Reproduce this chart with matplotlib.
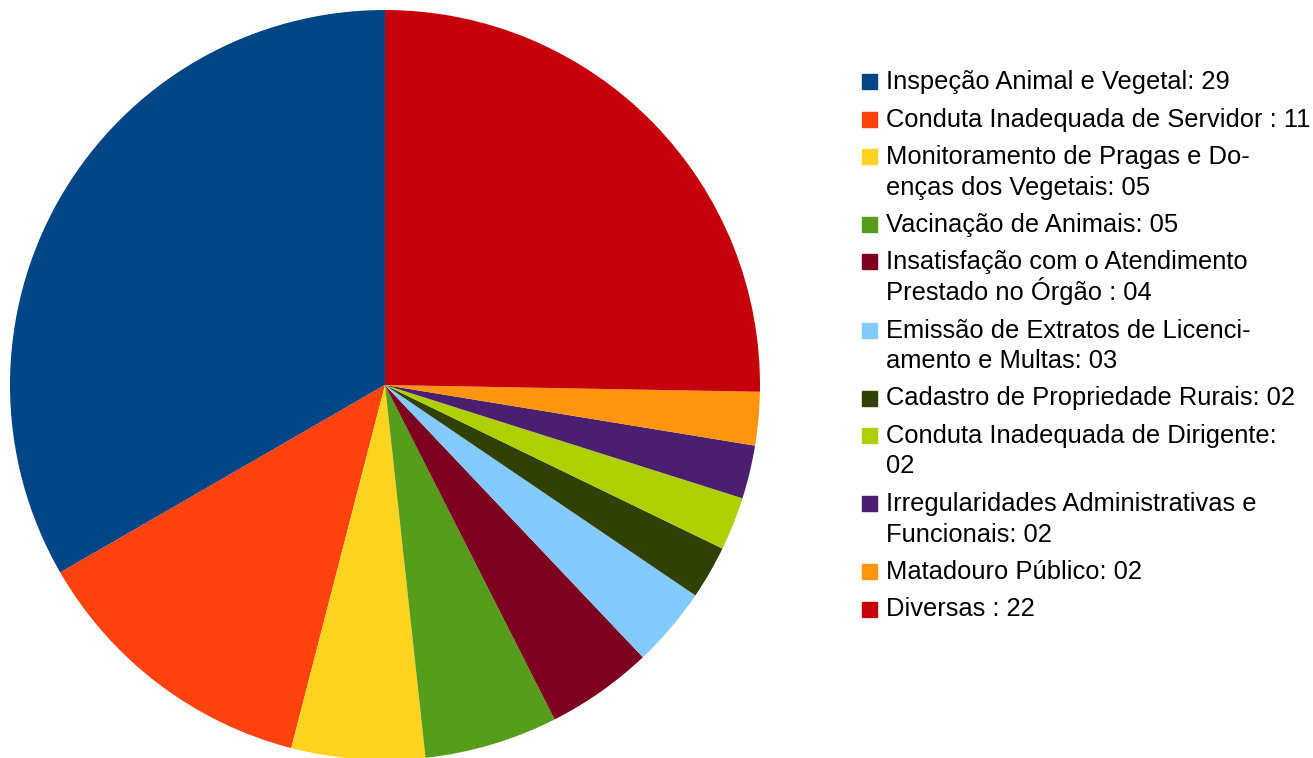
import matplotlib.pyplot as plt
from matplotlib.patches import Rectangle

W, H = 1313, 758

categories = [
    "Inspeção Animal e Vegetal: 29",
    "Conduta Inadequada de Servidor : 11",
    "Monitoramento de Pragas e Do-\nenças dos Vegetais: 05",
    "Vacinação de Animais: 05",
    "Insatisfação com o Atendimento\nPrestado no Órgão : 04",
    "Emissão de Extratos de Licenci-\namento e Multas: 03",
    "Cadastro de Propriedade Rurais: 02",
    "Conduta Inadequada de Dirigente:\n02",
    "Irregularidades Administrativas e\nFuncionais: 02",
    "Matadouro Público: 02",
    "Diversas : 22",
]
values = [29, 11, 5, 5, 4, 3, 2, 2, 2, 2, 22]
colors = ["#004586", "#ff420e", "#ffd320", "#579d1c", "#7e0021", "#83caff",
          "#314004", "#aecf00", "#4b1f6f", "#ff950e", "#c5000b"]

plt.rcParams['font.family'] = ['Liberation Sans', 'DejaVu Sans']

fig = plt.figure(figsize=(W / 100, H / 100), dpi=100)

# pie: center (385, 385) px, radius 375 px
cx, cy, r = 385, 385, 375
ax = fig.add_axes([(cx - r) / W, (H - cy - r) / H, 2 * r / W, 2 * r / H])
ax.pie(values, colors=colors, startangle=90, counterclock=True,
       radius=1, wedgeprops=dict(linewidth=0))
ax.set_xlim(-1, 1)
ax.set_ylim(-1, 1)
ax.set_aspect('equal')
ax.axis('off')
for p in ax.patches:
    p.set_clip_on(False)

# legend drawn by hand so the marker sits on the first line
fs = 18.4
base = 89
for lab, col in zip(categories, colors):
    lines = lab.split("\n")
    fig.patches.append(Rectangle((862 / W, 1 - (base) / H), 15 / W, 15 / H,
                                 transform=fig.transFigure, color=col))
    for i, ln in enumerate(lines):
        fig.text(886 / W, 1 - (base + i * 30.5) / H, ln, fontsize=fs,
                 va='baseline', ha='left', color='black')
    base += 37.5 + 30.5 * (len(lines) - 1)

plt.savefig("out.png", dpi=100)
